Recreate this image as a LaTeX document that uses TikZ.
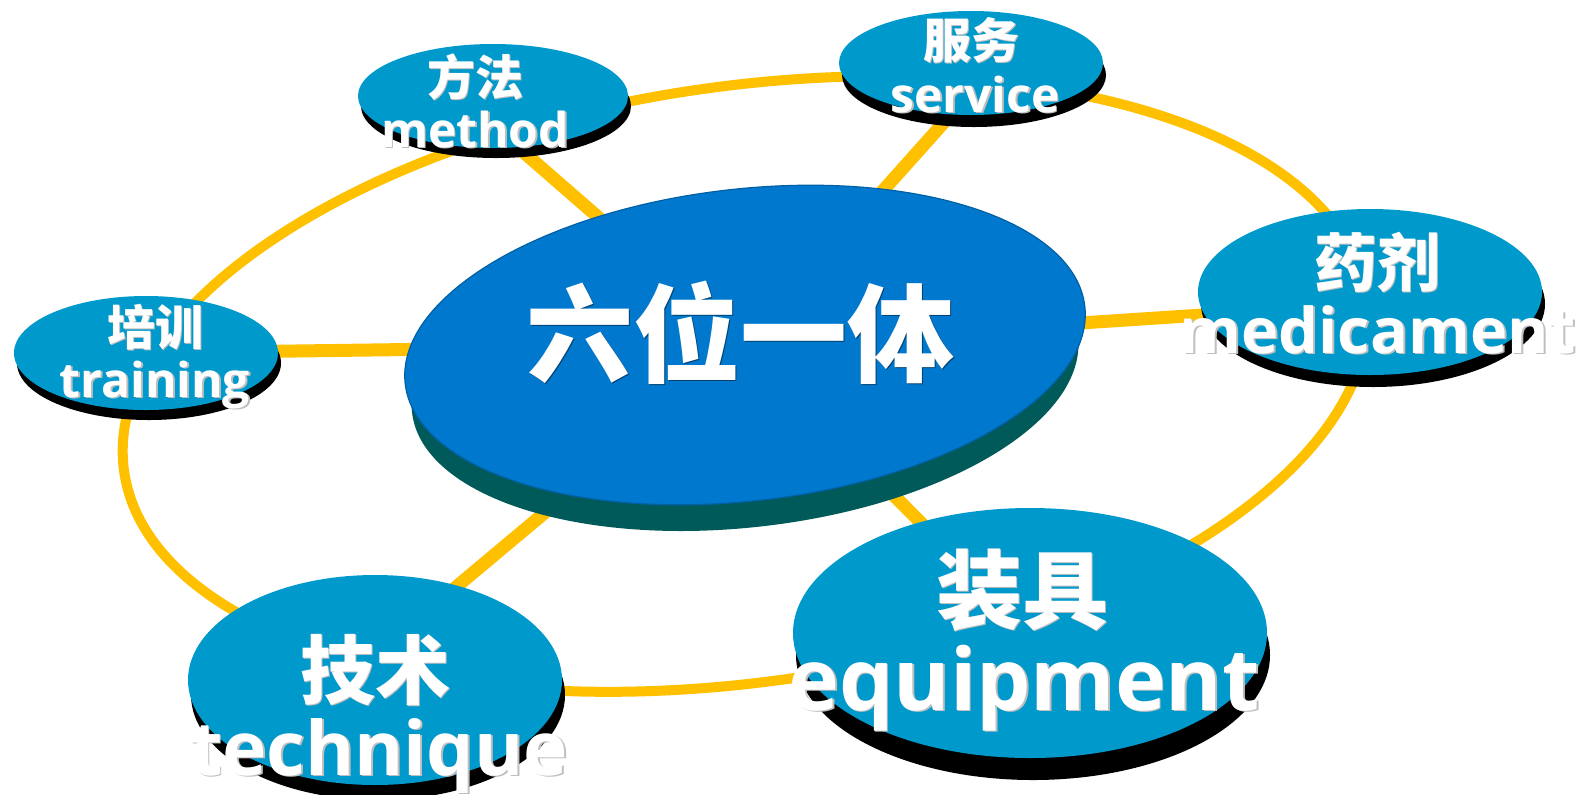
\documentclass[tikz,border=0pt]{standalone}
\usepackage{fontspec}
\setmainfont{Open Sans}
\newfontfamily\cjk{Noto Sans CJK SC}
\usetikzlibrary{shapes.geometric,shadows,backgrounds}

\definecolor{ringgold}{RGB}{255,192,0}
\definecolor{discblue}{RGB}{0,153,204}
\definecolor{hubblue}{RGB}{0,120,206}
\definecolor{hubside}{RGB}{1,90,90}

% white text with a soft shadow to the lower right
\newcommand\shd[2][black!25]{\rlap{\kern0.9pt\raisebox{-0.9pt}{\color{#1}#2}}#2}

\begin{document}
\begin{tikzpicture}[x=0.5pt,y=-0.5pt]
    \tikzstyle{every shadow}=[fill=black,opacity=1,shadow xshift=1.5pt]
    \tikzstyle{disc}=[ellipse,fill=discblue,inner sep=0pt]
    \tikzstyle{hub}=[ellipse,fill=hubblue,draw=hubblue!80!black,line width=0.6pt,inner sep=0pt]
    \tikzstyle{ring}=[draw=ringgold,line width=5pt]
    \tikzstyle{spoke}=[draw=ringgold,line width=6.5pt]
    \tikzset{zh/.style={text=white,anchor=base,inner sep=0pt,font=\cjk\bfseries\fontsize{#1}{#1}\selectfont},
             en/.style={text=white,anchor=base,inner sep=0pt,font=\bfseries\fontsize{#1}{#1}\selectfont}}

    \useasboundingbox (0,0) rectangle (1585,794);

    \node[hub,minimum width=342pt,minimum height=156pt,rotate=6.5,
        drop shadow={fill=hubside,shadow scale=0.98,shadow xshift=0pt,shadow yshift=-15pt}] (hub) at (745,345) {};

    \node[disc,minimum width=132pt,minimum height=57pt,drop shadow={shadow yshift=-5pt}] (training) at (146,353) {};
    \node[disc,minimum width=135pt,minimum height=52pt,drop shadow={shadow yshift=-5pt}] (method) at (493,96) {};
    \node[disc,minimum width=132pt,minimum height=52pt,drop shadow={shadow yshift=-6pt}] (service) at (971,63) {};
    \node[disc,minimum width=172pt,minimum height=83pt,drop shadow={shadow yshift=-6pt}] (medicament) at (1370,292) {};
    \node[disc,minimum width=237pt,minimum height=125pt,drop shadow={shadow yshift=-11pt}] (equipment) at (1030,633) {};
    \node[disc,minimum width=187pt,minimum height=105pt,drop shadow={shadow yshift=-7.5pt}] (technique) at (375,680) {};

    \begin{scope}[on background layer]
        \coordinate (loop) at (745,384);
        \draw[ring,rotate around={8:(loop)}] (loop) ellipse [x radius=627,y radius=298];
        \foreach \dest in {training,equipment}
            \draw[spoke] (hub.center) -- (\dest.center);
        \draw[spoke] (hub.center) -- ([xshift=-17pt]method.center);
        \draw[spoke] (hub.center) -- ([xshift=13pt]service.center);
        \draw[spoke] (hub.center) -- ([yshift=-6pt]medicament.center);
        \draw[spoke] (hub.center) -- ([xshift=-15pt]technique.center);
    \end{scope}

    \node[zh=53.5] at (740,374) {\shd[hubblue!55!black]{六位一体}};
    \node[zh=24] at (155,345) {\shd{培训}};
    \node[en=24] at (155,397) {\shd{training}};
    \node[zh=24] at (475,95) {\shd{方法}};
    \node[en=24] at (475,147) {\shd{method}};
    \node[zh=24] at (971,58) {\shd{服务}};
    \node[en=24] at (975,112) {\shd{service}};
    \node[zh=31.5] at (1377,286) {\shd{药剂}};
    \node[en=31.5] at (1378,353) {\shd{medicament}};
    \node[zh=43] at (1022,622) {\shd{装具}};
    \node[en=43] at (1024,710) {\shd{equipment}};
    \node[zh=37.5] at (375,698) {\shd{技术}};
    \node[en=37.5] at (379,775) {\shd{technique}};
\end{tikzpicture}
\end{document}
